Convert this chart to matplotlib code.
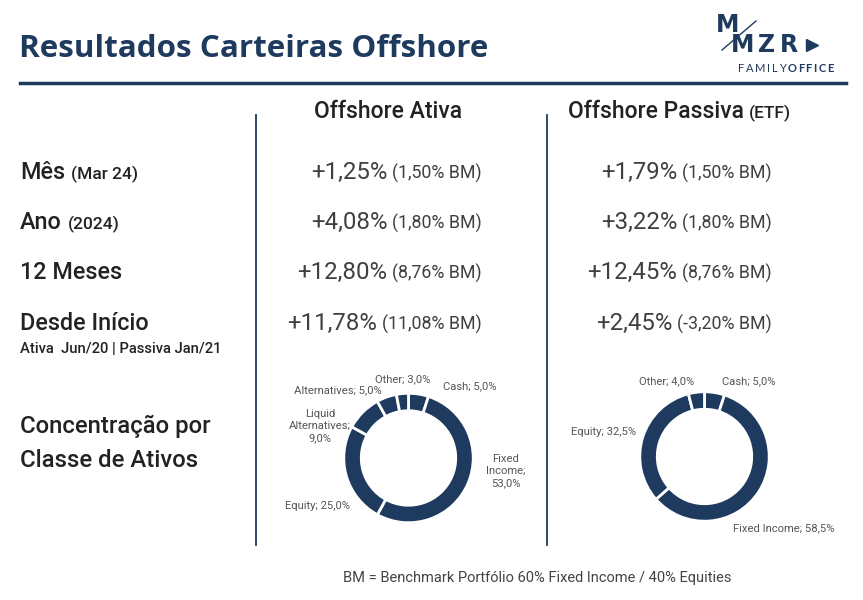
import matplotlib
matplotlib.use("Agg")
import matplotlib.pyplot as plt

# ---------------- data ----------------
row_labels = ["Mês", "Ano", "12 Meses", "Desde Início"]
row_sub = ["(Mar 24)", "(2024)", "", ""]
ativa_ret = ["+1,25%", "+4,08%", "+12,80%", "+11,78%"]
ativa_bm = ["(1,50% BM)", "(1,80% BM)", "(8,76% BM)", "(11,08% BM)"]
passiva_ret = ["+1,79%", "+3,22%", "+12,45%", "+2,45%"]
passiva_bm = ["(1,50% BM)", "(1,80% BM)", "(8,76% BM)", "(-3,20% BM)"]

ativa_classes = ["Cash", "Fixed Income", "Equity", "Liquid Alternatives", "Alternatives", "Other"]
ativa_alloc = [5.0, 53.0, 25.0, 9.0, 5.0, 3.0]
passiva_classes = ["Cash", "Fixed Income", "Equity", "Other"]
passiva_alloc = [5.0, 58.5, 32.5, 4.0]

NAVY = "#1f3a5f"
DARK = "#222222"
GRAY = "#555555"
W, H = 863, 600
ROBOTO = ["Roboto", "DejaVu Sans"]
TITLEF = ["Open Sans", "Lato", "DejaVu Sans"]
LOGOF = ["DejaVu Sans"]

fig = plt.figure(figsize=(W / 100, H / 100), dpi=100)
fig.patch.set_facecolor("white")
r = fig.canvas.get_renderer()


def P(x, y):
    return (x / W, 1 - y / H)


def txt(x, y, s, **kw):
    kw.setdefault("family", ROBOTO)
    return fig.text(*P(x, y), s, **kw)


# title
txt(19, 57, "Resultados Carteiras Offshore", fontsize=22.6, fontweight="bold",
    color=NAVY, family=TITLEF, va="baseline")
fig.add_artist(plt.Line2D([20 / W, 846 / W], [1 - 83 / H] * 2, color=NAVY, lw=2.5))

# logo
txt(716, 32, "M", fontsize=17, fontweight="heavy", color=NAVY, va="baseline", family=LOGOF)
xcur = 731
for ch in "MZR":
    t = txt(xcur, 52, ch, fontsize=17, fontweight="heavy", color=NAVY, va="baseline",
            family=LOGOF)
    xcur = t.get_window_extent(r).x1 + 4
fig.add_artist(plt.Line2D([722 / W, 756 / W], [1 - 50 / H, 1 - 21 / H], color=NAVY, lw=1))
fig.add_artist(plt.Line2D([(xcur + 10) / W], [1 - 45 / H], marker=">", color=NAVY,
                          markersize=9, lw=0))
xcur = 738
for k, ch in enumerate("FAMILYOFFICE"):
    t = txt(xcur, 72, ch, fontsize=8, fontweight="bold" if k >= 6 else "normal",
            color=NAVY, va="baseline", family=["Lato", "DejaVu Sans"])
    xcur = t.get_window_extent(r).x1 + 1.6

# column headers
txt(388, 118, "Offshore Ativa", fontsize=16.5, fontweight="medium", color=DARK,
    ha="center", va="baseline")
hdr = txt(568, 118, "Offshore Passiva", fontsize=16.5, fontweight="medium", color=DARK,
          ha="left", va="baseline")
bb = hdr.get_window_extent(r)
fig.text((bb.x1 + 5) / W, hdr.get_position()[1], "(ETF)", fontsize=12.5, fontweight="medium",
         color=DARK, va="baseline", family=ROBOTO)

# vertical separators
for xv in (256, 547):
    fig.add_artist(plt.Line2D([xv / W] * 2, [1 - 115 / H, 1 - 545 / H], color=NAVY, lw=1.3))

# rows
row_y = [179, 229, 279, 330]
for i, lab in enumerate(row_labels):
    t = txt(20, row_y[i], lab, fontsize=16.8, fontweight="medium", color=DARK, va="baseline")
    if row_sub[i]:
        bb = t.get_window_extent(r)
        fig.text((bb.x1 + 6) / W, t.get_position()[1], row_sub[i], fontsize=12.5,
                 fontweight="medium", color=DARK, va="baseline", family=ROBOTO)
txt(20, 353, "Ativa  Jun/20 | Passiva Jan/21", fontsize=10.6, fontweight="medium",
    color=DARK, va="baseline")
txt(20, 433, "Concentração por", fontsize=17.2, fontweight="medium", color=DARK, va="baseline")
txt(20, 467, "Classe de Ativos", fontsize=17.2, fontweight="medium", color=DARK, va="baseline")

VCOL = "#404040"
for i in range(4):
    for xr, big, small in ((482, ativa_ret[i], ativa_bm[i]), (772, passiva_ret[i], passiva_bm[i])):
        s = txt(xr, row_y[i], small, fontsize=12.8, fontweight="normal", color=VCOL,
                ha="right", va="baseline")
        bb = s.get_window_extent(r)
        fig.text((bb.x0 - 5) / W, s.get_position()[1], big, fontsize=17.3, fontweight="normal",
                 color=VCOL, ha="right", va="baseline", family=ROBOTO)


# donuts
def donut(cx, cy, rad, vals):
    ax = fig.add_axes([(cx - rad) / W, 1 - (cy + rad) / H, 2 * rad / W, 2 * rad / H])
    ax.pie(vals, radius=1, startangle=90, counterclock=False, colors=[NAVY] * len(vals),
           wedgeprops=dict(width=0.27, edgecolor="white", linewidth=2))
    ax.set_xlim(-1.02, 1.02)
    ax.set_ylim(-1.02, 1.02)
    ax.set_aspect("equal")
    ax.axis("off")


donut(408.5, 458, 66, ativa_alloc)
donut(704.5, 456.5, 66, passiva_alloc)


def pct(v):
    return f"{v:.1f}%".replace(".", ",")


def lab(name, v):
    return f"{name}; {pct(v)}"


LS = dict(fontsize=8.1, color=GRAY, va="center", linespacing=1.25)
a = dict(zip(ativa_classes, ativa_alloc))
txt(403, 379, lab("Other", a["Other"]), ha="center", **LS)
txt(443, 386, lab("Cash", a["Cash"]), ha="left", **LS)
txt(382, 390, lab("Alternatives", a["Alternatives"]), ha="right", **LS)
txt(320, 426, "Liquid\nAlternatives;\n" + pct(a["Liquid Alternatives"]),
    ha="center", multialignment="center", **LS)
txt(506, 471, "Fixed\nIncome;\n" + pct(a["Fixed Income"]),
    ha="center", multialignment="center", **LS)
txt(285, 506, lab("Equity", a["Equity"]), ha="left", **LS)

p = dict(zip(passiva_classes, passiva_alloc))
txt(639, 381, lab("Other", p["Other"]), ha="left", **LS)
txt(722, 381, lab("Cash", p["Cash"]), ha="left", **LS)
txt(571, 432, lab("Equity", p["Equity"]), ha="left", **LS)
txt(733, 528, lab("Fixed Income", p["Fixed Income"]), ha="left", **LS)

txt(537, 578, "BM = Benchmark Portfólio 60% Fixed Income / 40% Equities", fontsize=10.5,
    color="#444444", ha="center", va="center")

fig.savefig("out.png", dpi=100, facecolor="white")
